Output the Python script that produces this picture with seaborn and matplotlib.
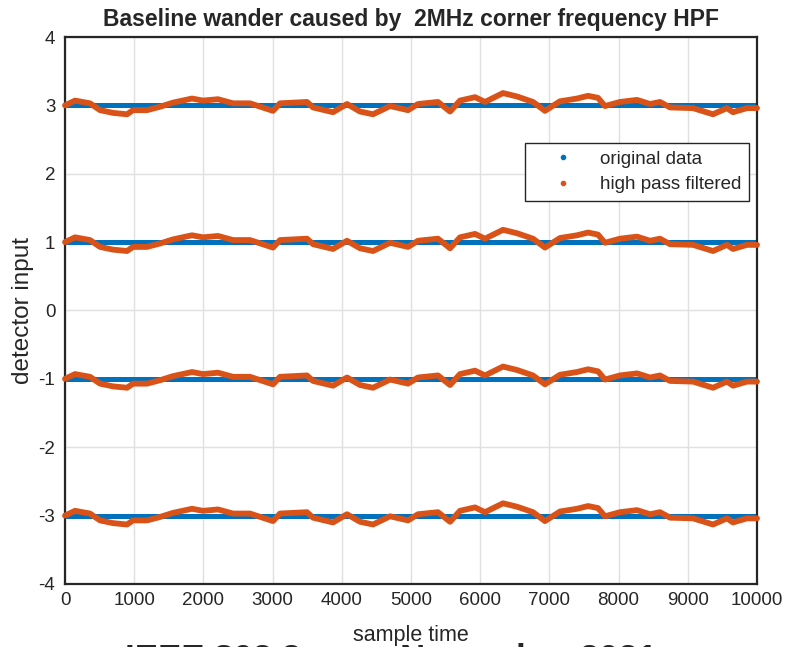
import matplotlib
matplotlib.use('Agg')
import matplotlib.pyplot as plt
from matplotlib.lines import Line2D
import seaborn as sns

# Poziomy sygnalu PAM4 (original data)
levels = [3, 1, -1, -3]
x_range = [0, 10000]

# Odczytany dryf linii bazowej po filtrze HPF (taki sam na kazdym poziomie)
wander_x = [0, 145, 361, 506, 694, 896, 983, 1185, 1373, 1561, 1835, 1994, 2211, 2428,
            2673, 3006, 3107, 3497, 3584, 3873, 4075, 4263, 4451, 4697, 4957, 5101, 5390,
            5564, 5708, 5925, 6069, 6329, 6532, 6763, 6936, 7153, 7399, 7558, 7702, 7803,
            8020, 8266, 8454, 8598, 8743, 9075, 9364, 9566, 9653, 9855, 10000]
wander_y = [0.0, 0.07, 0.03, -0.07, -0.11, -0.13, -0.07, -0.07, -0.02, 0.04, 0.10, 0.07,
            0.09, 0.03, 0.03, -0.08, 0.03, 0.05, -0.03, -0.10, 0.02, -0.09, -0.13, -0.01,
            -0.07, 0.02, 0.05, -0.09, 0.07, 0.12, 0.05, 0.18, 0.13, 0.05, -0.08, 0.06,
            0.10, 0.14, 0.11, -0.01, 0.05, 0.08, 0.02, 0.05, -0.03, -0.04, -0.13, -0.04,
            -0.10, -0.04, -0.04]

x_ticks = list(range(0, 10001, 1000))
y_ticks = list(range(-4, 5))

blue = '#0072BD'
orange = '#D95319'

sns.set_style('white')
plt.rcParams['font.family'] = ['Liberation Sans', 'DejaVu Sans']
plt.rcParams['axes.unicode_minus'] = False

fig = plt.figure(figsize=(7.87, 6.47), dpi=100)
ax = fig.add_axes([0.0826, 0.0974, 0.8793, 0.8454])

# oryginalne dane - pasy na poziomach
for lv in levels:
    sns.lineplot(x=x_range, y=[lv, lv], color=blue, linewidth=3.6, ax=ax,
                 legend=False, zorder=2)

# dane po filtrze gornoprzepustowym
for lv in levels:
    sns.lineplot(x=wander_x, y=[lv + w for w in wander_y], color=orange, linewidth=4.2,
                 ax=ax, legend=False, zorder=3, solid_capstyle='round',
                 solid_joinstyle='round', clip_on=False)

ax.set_xlim(0, 10000)
ax.set_ylim(-4, 4)
ax.set_xticks(x_ticks)
ax.set_yticks(y_ticks)
ax.grid(True, color='#E0E0E0', linewidth=1)
ax.set_axisbelow(True)
ax.tick_params(direction='in', length=5, width=1, colors='#262626', labelsize=13.5,
               labelcolor='#262626')
ax.tick_params(axis='x', pad=6)
ax.tick_params(axis='y', pad=7)
for s in ax.spines.values():
    s.set_visible(True)
    s.set_color('#262626')
    s.set_linewidth(1.6)

ax.set_title('Baseline wander caused by  2MHz corner frequency HPF', fontsize=16.5,
             fontweight='bold', pad=8)
ax.set_xlabel('sample time', fontsize=15.5, color='#262626', labelpad=11)
ax.set_ylabel('detector input', fontsize=17.5, color='#262626', labelpad=3)

handles = [Line2D([], [], marker='.', linestyle='none', color=blue, markersize=6),
           Line2D([], [], marker='.', linestyle='none', color=orange, markersize=6)]
leg = ax.legend(handles, ['original data', 'high pass filtered'], loc='upper right',
                bbox_to_anchor=(0.988, 0.806), borderaxespad=0, fontsize=13.5,
                fancybox=False, framealpha=1, edgecolor='#262626', borderpad=0.4,
                handletextpad=0.3, labelspacing=0.45, handlelength=3.3)
leg.get_frame().set_linewidth(1)

# stopka slajdu (ucieta, jak na oryginale)
fig.text(125 / 787, 1 - 643 / 647, 'IEEE 802.3', fontsize=25, fontweight='bold',
         va='top')
fig.text(400 / 787, 1 - 643 / 647, 'November 2021', fontsize=25, fontweight='bold',
         va='top')

plt.savefig('out.png', dpi=100)
